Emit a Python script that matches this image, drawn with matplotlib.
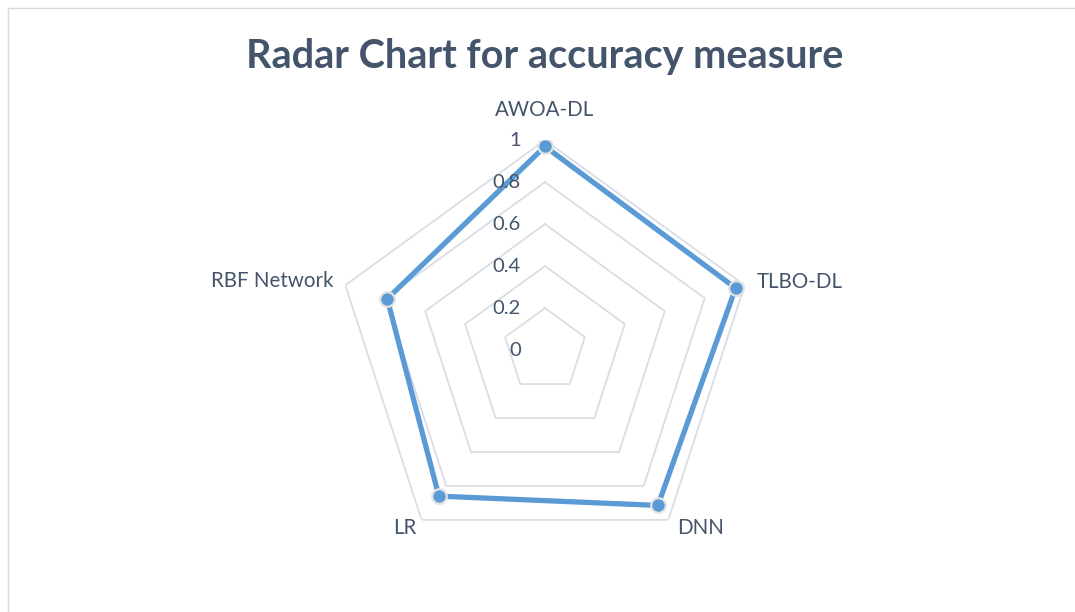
import matplotlib.pyplot as plt
import numpy as np
from matplotlib.lines import Line2D

categories = ["AWOA-DL", "TLBO-DL", "DNN", "LR", "RBF Network"]
accuracy = [0.97, 0.955, 0.915, 0.86, 0.79]
rings = [0.2, 0.4, 0.6, 0.8, 1.0]
ring_labels = ["0", "0.2", "0.4", "0.6", "0.8", "1"]

text_col = "#44546A"
grid_col = "#D9DDE5"
line_col = "#5B9BD5"

fig = plt.figure(figsize=(10.75, 6.12), dpi=100)
ax = fig.add_axes([0.3116, 0.085, 0.3907, 0.686], projection="polar")
ax.set_theta_offset(np.pi / 2)
ax.set_theta_direction(-1)
ax.set_ylim(0, 1)
ax.grid(False)
ax.spines["polar"].set_visible(False)
ax.set_xticks([])
ax.set_yticks([])
ax.patch.set_alpha(0)

angles = np.linspace(0, 2 * np.pi, len(categories), endpoint=False)
closed = np.append(angles, angles[0])

# pentagon grid
for r in rings:
    ax.plot(closed, [r] * len(closed), color=grid_col, lw=1.3, zorder=1)

# data series
vals = np.append(accuracy, accuracy[0])
ax.plot(closed, vals, color=line_col, lw=3.8, zorder=3, solid_joinstyle="miter")
ax.plot(angles, accuracy, "o", ms=10.5, color=line_col, mec="#E2E2E2", mew=1.6, zorder=4)

# radial value labels
for i, lab in enumerate(ring_labels):
    ax.annotate(lab, xy=(0, i * 0.2), xytext=(-24, 0), textcoords="offset pixels",
                ha="right", va="center", fontsize=14.5, color=text_col, family="Lato")

# category labels
offsets = [(0, 30, "center"), (12, 3, "left"), (9, -8, "left"), (-5, -8, "right"), (-12, 4, "right")]
for a, name, (dx, dy, ha) in zip(angles, categories, offsets):
    ax.annotate(name, xy=(a, 1.0), xytext=(dx, dy), textcoords="offset pixels",
                ha=ha, va="center", fontsize=14.8, color=text_col, family="Lato")

fig.text(0.507, 0.907, "Radar Chart for accuracy measure", ha="center", va="center",
         fontsize=28.5, fontweight="bold", color=text_col, family="Lato")

# chart frame
fig.add_artist(Line2D([8 / 1075, 8 / 1075, 1.0], [0.0, 1 - 8 / 612, 1 - 8 / 612],
                      transform=fig.transFigure, color="#D9D9D9", lw=1))

fig.savefig("out.png", dpi=100)
